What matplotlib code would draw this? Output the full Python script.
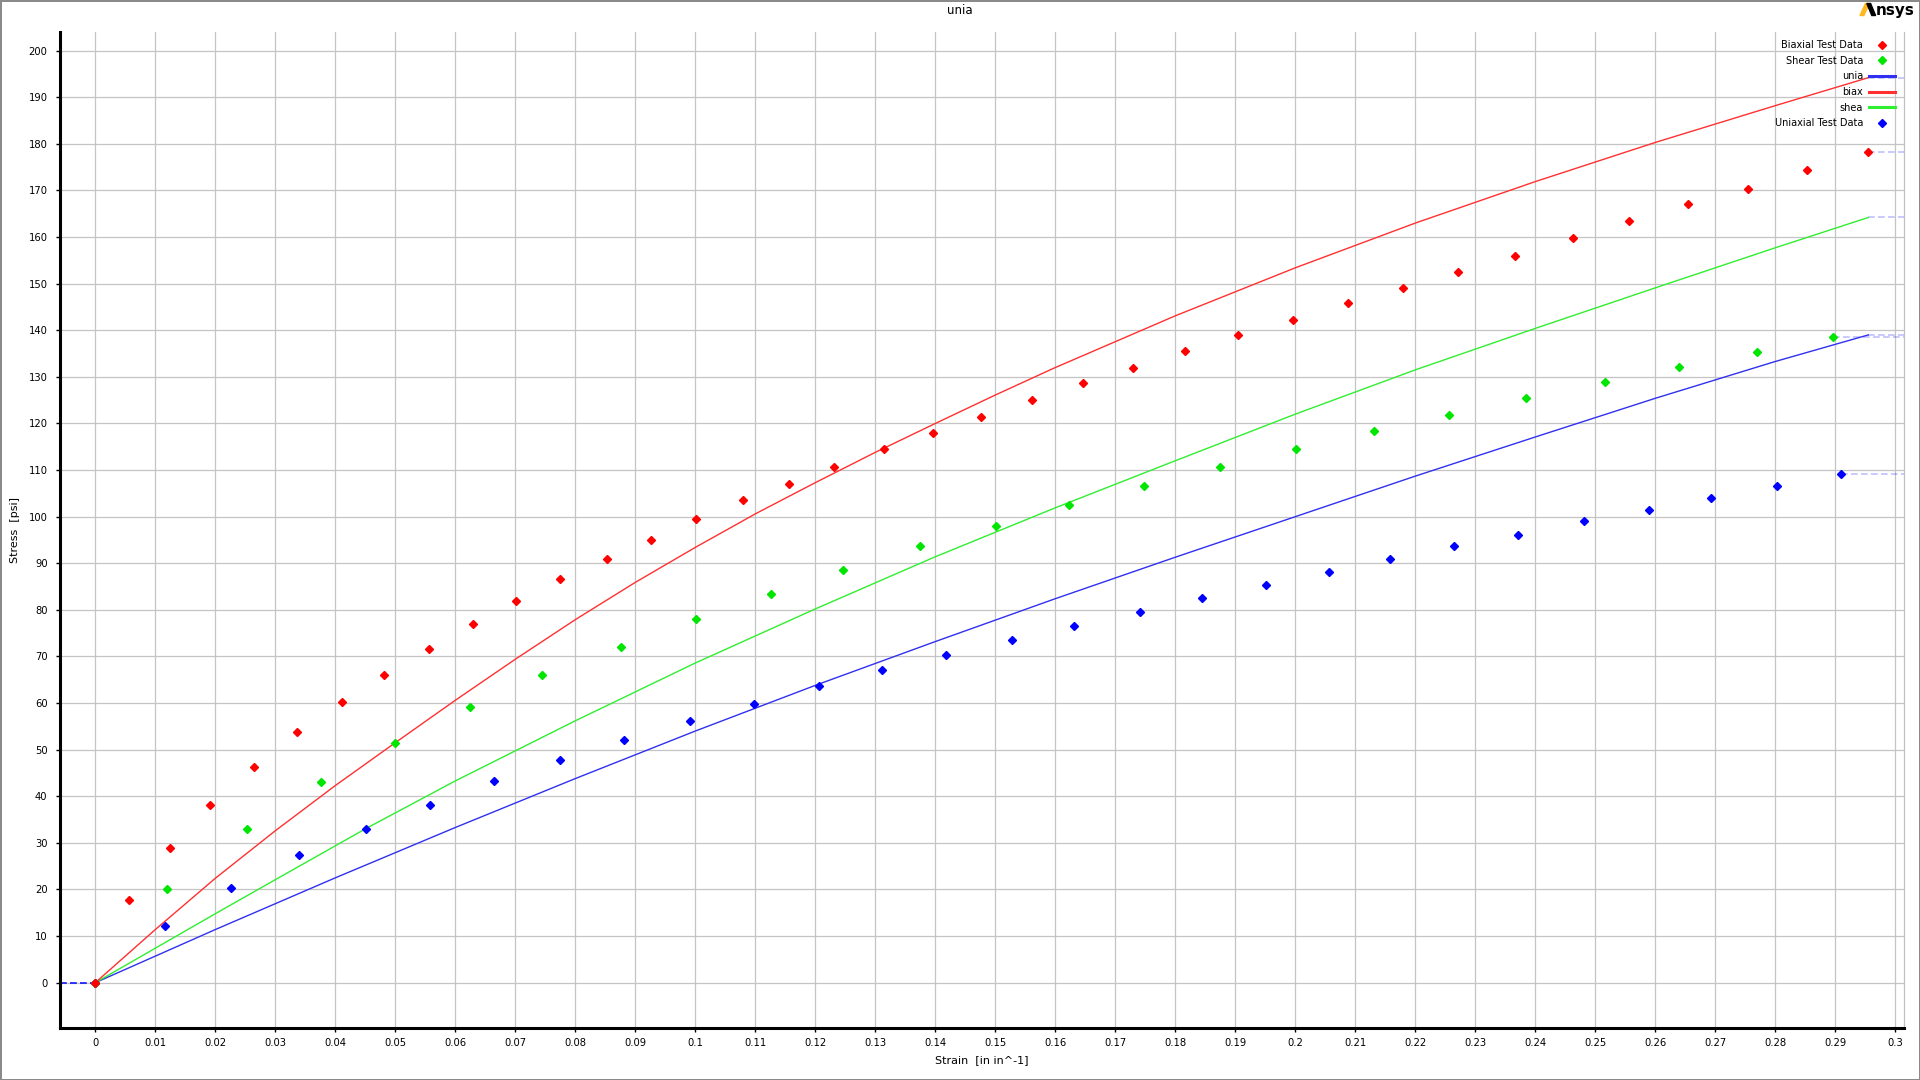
import matplotlib
matplotlib.use("Agg")
import matplotlib.pyplot as plt
from matplotlib.lines import Line2D
from matplotlib.patches import Polygon
import numpy as np

plt.rcParams['font.family'] = ['DejaVu Sans']

# ---- test data (strain [in/in], stress [psi]) ----
biax_strain = [0.0, 0.0056, 0.0124, 0.0191, 0.0264, 0.0337, 0.0411, 0.0481, 0.0556, 0.0630,
               0.0702, 0.0775, 0.0853, 0.0926, 0.1001, 0.1079, 0.1156, 0.1232, 0.1314, 0.1396,
               0.1477, 0.1561, 0.1646, 0.1730, 0.1816, 0.1904, 0.1996, 0.2088, 0.2180, 0.2271,
               0.2366, 0.2463, 0.2556, 0.2655, 0.2755, 0.2853, 0.2954]
biax_stress = [0.0, 17.7, 29.0, 38.1, 46.3, 53.8, 60.3, 66.0, 71.7, 77.0,
               82.0, 86.6, 91.0, 95.1, 99.4, 103.6, 107.1, 110.7, 114.6, 118.0,
               121.4, 125.1, 128.6, 132.0, 135.6, 139.0, 142.2, 145.9, 149.1, 152.5,
               156.0, 159.9, 163.5, 167.1, 170.4, 174.4, 178.3]

shear_strain = [0.0, 0.0120, 0.0253, 0.0376, 0.0500, 0.0624, 0.0745, 0.0876, 0.1001, 0.1126,
                0.1246, 0.1374, 0.1501, 0.1623, 0.1748, 0.1875, 0.2002, 0.2131, 0.2256,
                0.2385, 0.2516, 0.2640, 0.2769, 0.2897]
shear_stress = [0.0, 20.1, 33.0, 43.1, 51.5, 59.2, 66.0, 72.1, 78.1, 83.5,
                88.6, 93.6, 98.1, 102.6, 106.6, 110.7, 114.6, 118.3, 121.9,
                125.4, 128.8, 132.2, 135.4, 138.6]

uniax_strain = [0.0, 0.0116, 0.0226, 0.0340, 0.0451, 0.0558, 0.0665, 0.0774, 0.0881, 0.0991,
                0.1098, 0.1206, 0.1312, 0.1418, 0.1528, 0.1631, 0.1741, 0.1845, 0.1951,
                0.2056, 0.2158, 0.2265, 0.2371, 0.2481, 0.2589, 0.2693, 0.2803, 0.2909]
uniax_stress = [0.0, 12.2, 20.4, 27.3, 33.0, 38.1, 43.3, 47.8, 52.0, 56.1,
                59.9, 63.6, 67.0, 70.4, 73.6, 76.6, 79.6, 82.6, 85.4,
                88.2, 91.0, 93.6, 96.1, 99.0, 101.4, 103.9, 106.5, 109.1]

# ---- fitted curves ----
unia_fit_strain = [0, 0.02, 0.04, 0.06, 0.08, 0.10, 0.12, 0.14, 0.16, 0.18, 0.20,
                   0.22, 0.24, 0.26, 0.28, 0.2955]
unia_fit_stress = [0, 11.4, 22.5, 33.3, 43.8, 54.0, 63.8, 73.2, 82.4, 91.3, 100.0,
                   108.7, 117.1, 125.4, 133.3, 139.0]

biax_fit_strain = [0, 0.01, 0.02, 0.03, 0.04, 0.05, 0.06, 0.07, 0.08, 0.09, 0.10, 0.11,
                   0.12, 0.13, 0.14, 0.15, 0.16, 0.18, 0.20, 0.22, 0.24, 0.26, 0.28, 0.2955]
biax_fit_stress = [0, 11.4, 22.4, 32.6, 42.3, 51.5, 60.6, 69.4, 77.9, 85.9, 93.4, 100.6,
                   107.3, 113.8, 120.0, 126.1, 132.0, 143.1, 153.4, 163.0, 171.9, 180.3,
                   188.2, 194.2]

shea_fit_strain = [0, 0.01, 0.02, 0.03, 0.045, 0.06, 0.08, 0.10, 0.12, 0.14, 0.16, 0.18,
                   0.20, 0.22, 0.24, 0.26, 0.28, 0.2955]
shea_fit_stress = [0, 7.4, 14.8, 22.1, 33.0, 43.3, 56.2, 68.6, 80.2, 91.4, 101.9, 112.0,
                   122.0, 131.5, 140.4, 149.1, 157.7, 164.2]

x_ticks = np.round(np.arange(0, 0.3001, 0.01), 2)
y_ticks = np.arange(0, 201, 10)

RED, GREEN, BLUE = '#ff0000', '#00e600', '#0000ff'
RED_L, GREEN_L, BLUE_L = '#ff3030', '#30ee30', '#3030f0'

W, H = 1920, 1080
fig = plt.figure(figsize=(19.2, 10.8), dpi=100)
fig.patch.set_edgecolor('#8a8a8a')
fig.patch.set_linewidth(2)

ax = fig.add_axes([60 / W, 1 - 1028 / H, (1904 - 60) / W, (1028 - 32) / H])
xmin, xmax = -0.00588, 0.30145
ax.set_xlim(xmin, xmax)
ax.set_ylim(-9.72, 204.0)

series = [
    (uniax_strain, uniax_stress, 'marker', BLUE),
    (shear_strain, shear_stress, 'marker', GREEN),
    (unia_fit_strain, unia_fit_stress, 'line', BLUE_L),
    (shea_fit_strain, shea_fit_stress, 'line', GREEN_L),
    (biax_fit_strain, biax_fit_stress, 'line', RED_L),
    (biax_strain, biax_stress, 'marker', RED),
]

# dashed extrapolation to the axes edges
for xs, ys, kind, col in series:
    ax.plot([xmin, xs[0]], [ys[0], ys[0]], color='#0000ff', alpha=0.25, lw=1.2,
            ls=(0, (4, 2)), zorder=2)
    ax.plot([xs[-1], xmax], [ys[-1], ys[-1]], color='#0000ff', alpha=0.25, lw=1.2,
            ls=(0, (4, 2)), zorder=2)

for xs, ys, kind, col in series:
    if kind == 'line':
        ax.plot(xs, ys, color=col, lw=1.0, zorder=3)
    else:
        ax.plot(xs, ys, ls='none', marker='D', ms=3.6, color=col, mec=col, zorder=4)

ax.set_xticks(x_ticks)
ax.set_xticklabels([f"{v:g}" for v in x_ticks])
ax.set_yticks(y_ticks)
ax.tick_params(axis='both', labelsize=7.2, length=3, width=1, direction='out', color='black')
ax.tick_params(axis='y', pad=6)
ax.tick_params(axis='x', pad=4)
ax.grid(True, color='#c4c4c4', lw=0.9)
ax.set_axisbelow(True)

for s in ['left', 'bottom']:
    ax.spines[s].set_linewidth(2.2)
    ax.spines[s].set_color('black')
ax.spines['top'].set_visible(False)
ax.spines['right'].set_color('#c0c0c0')
ax.spines['right'].set_linewidth(0.9)

ax.set_xlabel('Strain  [in in^-1]', fontsize=8, labelpad=5)
ax.set_ylabel('Stress  [psi]', fontsize=8, labelpad=6)
fig.text(0.5, 1 - 10 / H, 'unia', ha='center', va='center', fontsize=8.5)

handles = [
    Line2D([], [], ls='none', marker='D', ms=3.6, color=RED),
    Line2D([], [], ls='none', marker='D', ms=3.6, color=GREEN),
    Line2D([], [], color=BLUE_L, lw=2.2),
    Line2D([], [], color=RED_L, lw=2.2),
    Line2D([], [], color=GREEN_L, lw=2.2),
    Line2D([], [], ls='none', marker='D', ms=3.6, color=BLUE),
]
labels = ['Biaxial Test Data', 'Shear Test Data', 'unia', 'biax', 'shea', 'Uniaxial Test Data']
ax.legend(handles, labels, loc='upper right', bbox_to_anchor=(1895 / W, 1 - 40 / H),
          bbox_transform=fig.transFigure, frameon=False, markerfirst=False, fontsize=7,
          handlelength=2.7, handletextpad=0.6, labelspacing=0.58, borderpad=0,
          borderaxespad=0)

# Ansys logo
def px(x, y):
    return (x / W, 1 - y / H)

fig.patches.append(Polygon([px(1860, 15.5), px(1863.8, 15.5), px(1869.3, 3.5), px(1865.5, 3.5)],
                           closed=True, transform=fig.transFigure, color='#ffb71b'))
fig.patches.append(Polygon([px(1866.8, 3.5), px(1870.6, 3.5), px(1875.6, 15.5), px(1871.8, 15.5)],
                           closed=True, transform=fig.transFigure, color='black'))
fig.text(1875.5 / W, 1 - 10 / H, 'nsys', ha='left', va='center', fontsize=11,
         fontweight='bold', color='black')

fig.savefig('out.png', dpi=100)
